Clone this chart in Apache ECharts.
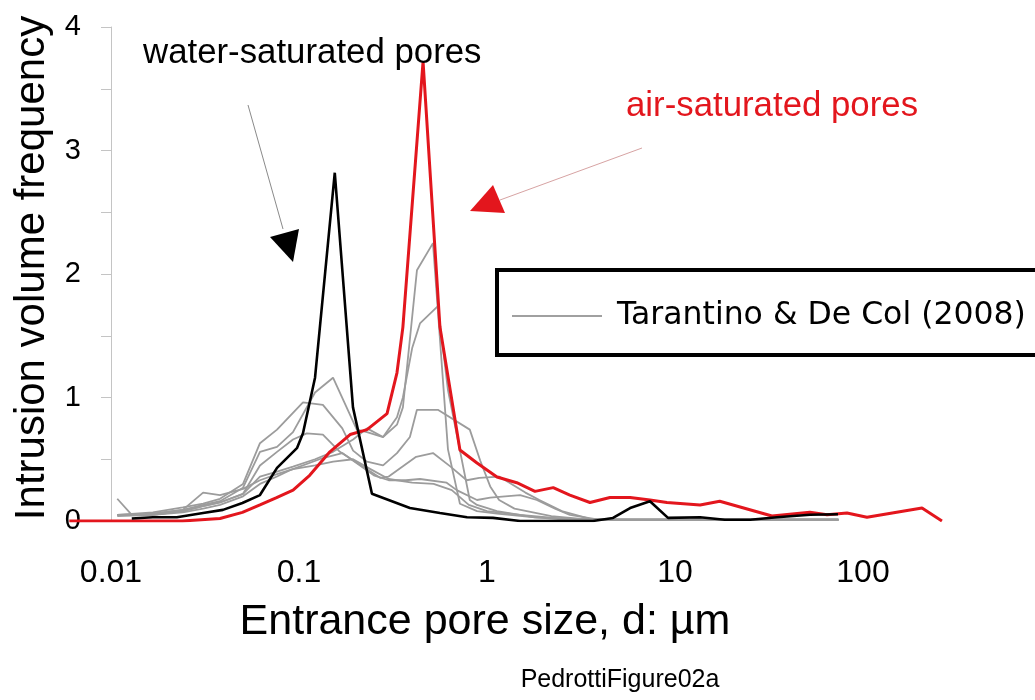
<!DOCTYPE html>
<html>
<head>
<meta charset="utf-8">
<script src="https://cdn.jsdelivr.net/npm/echarts@6/dist/echarts.min.js"></script>
<style>html,body{margin:0;padding:0;background:#fff}#c{width:1035px;height:700px}</style>
</head>
<body>
<div id="c"></div>
<script>
// ---- data ----
const xTickValues = [0.01, 0.1, 1, 10, 100];
const xTickLabels = ['0.01', '0.1', '1', '10', '100'];
const yTickLabels = ['0', '1', '2', '3', '4'];

const xTitle = 'Entrance pore size, d: \u00b5m';
const yTitle = 'Intrusion volume frequency';
const legendLabel = 'Tarantino & De Col (2008)';
const waterLabel = 'water-saturated pores';
const airLabel = 'air-saturated pores';
const footLabel = 'PedrottiFigure02a';

// air-saturated pores (red)
const redD = [0.006, 0.024, 0.038, 0.050, 0.062, 0.076, 0.093, 0.114, 0.146, 0.187, 0.230, 0.294, 0.332, 0.357, 0.457, 0.562, 0.718, 0.885, 1.13, 1.44, 1.80, 2.25, 2.76, 3.53, 4.51, 5.77, 7.36, 9.06, 13.6, 17.3, 32.8, 52.2, 64.4, 82.2, 105, 206, 263];
const redV = [0, 0, 0.02, 0.07, 0.13, 0.19, 0.25, 0.37, 0.56, 0.70, 0.74, 0.87, 1.20, 1.57, 3.72, 1.57, 0.575, 0.47, 0.356, 0.31, 0.24, 0.27, 0.21, 0.15, 0.19, 0.19, 0.17, 0.15, 0.13, 0.16, 0.04, 0.07, 0.05, 0.065, 0.03, 0.105, 0];

// water-saturated pores (black)
const blackD = [0.0129, 0.0167, 0.0224, 0.0309, 0.0394, 0.050, 0.062, 0.0764, 0.0975, 0.105, 0.1217, 0.155, 0.1937, 0.2444, 0.389, 0.562, 0.783, 1.076, 1.50, 2.67, 3.66, 4.68, 5.77, 7.36, 9.18, 13.6, 18.4, 25.1, 34.9, 52.2, 73.6];
const blackV = [0.02, 0.03, 0.03, 0.065, 0.09, 0.146, 0.21, 0.43, 0.59, 0.71, 1.16, 2.82, 0.92, 0.22, 0.105, 0.065, 0.03, 0.025, 0, 0, 0, 0.025, 0.105, 0.16, 0.025, 0.03, 0.01, 0.01, 0.03, 0.05, 0.055];

// Tarantino & De Col (2008) curves (grey)
const g1D = [0.0108, 0.0167, 0.0241, 0.0309, 0.038, 0.0504, 0.062, 0.0764, 0.0929, 0.1217, 0.1517, 0.203, 0.23, 0.28, 0.332, 0.357, 0.424, 0.516, 0.62, 0.718, 0.885, 1.13, 1.8, 2.76, 4.5, 9, 25, 74];
const g1V = [0.05, 0.06, 0.09, 0.13, 0.16, 0.27, 0.56, 0.60, 0.72, 1.04, 1.16, 0.74, 0.72, 0.68, 0.78, 0.92, 2.03, 2.25, 0.58, 0.14, 0.08, 0.06, 0.03, 0.01, 0.01, 0.01, 0.01, 0.01];
const g2D = [0.0108, 0.0167, 0.0241, 0.0309, 0.038, 0.0504, 0.062, 0.0764, 0.105, 0.134, 0.17, 0.194, 0.23, 0.28, 0.332, 0.389, 0.424, 0.548, 0.81, 0.92, 1.04, 1.16, 1.4, 2.2, 3.5, 9, 25, 74];
const g2V = [0.05, 0.07, 0.11, 0.14, 0.18, 0.30, 0.63, 0.74, 0.96, 0.94, 0.75, 0.57, 0.48, 0.45, 0.55, 0.68, 0.90, 0.90, 0.74, 0.49, 0.28, 0.17, 0.10, 0.04, 0.01, 0.01, 0.01, 0.01];
const g3D = [0.0108, 0.0167, 0.0241, 0.0309, 0.038, 0.0504, 0.062, 0.0764, 0.0929, 0.1217, 0.1517, 0.194, 0.23, 0.28, 0.332, 0.357, 0.40, 0.44, 0.548, 0.62, 0.81, 0.885, 1.13, 1.8, 2.76, 4.5, 9, 25, 74];
const g3V = [0.05, 0.05, 0.08, 0.12, 0.15, 0.22, 0.36, 0.40, 0.44, 0.50, 0.56, 0.66, 0.75, 0.68, 0.84, 1.00, 1.40, 1.60, 1.74, 1.06, 0.17, 0.13, 0.08, 0.03, 0.02, 0.01, 0.01, 0.01, 0.01];
const g4D = [0.0108, 0.0167, 0.0241, 0.0309, 0.038, 0.0504, 0.062, 0.0764, 0.0929, 0.11, 0.134, 0.165, 0.27, 0.30, 0.42, 0.516, 0.64, 0.78, 0.91, 1.16, 1.6, 1.9, 2.5, 3.5, 5, 25, 74];
const g4V = [0.04, 0.05, 0.08, 0.12, 0.15, 0.22, 0.45, 0.56, 0.66, 0.71, 0.70, 0.56, 0.35, 0.36, 0.52, 0.55, 0.44, 0.33, 0.35, 0.36, 0.23, 0.17, 0.08, 0.02, 0.01, 0.01, 0.01];
const g5D = [0.0108, 0.0167, 0.0241, 0.0309, 0.038, 0.0504, 0.062, 0.0764, 0.089, 0.134, 0.17, 0.25, 0.30, 0.37, 0.44, 0.61, 0.69, 0.885, 1.04, 1.5, 1.84, 2.3, 2.76, 4, 9, 25, 74];
const g5V = [0.05, 0.05, 0.07, 0.10, 0.13, 0.20, 0.30, 0.36, 0.41, 0.51, 0.55, 0.37, 0.33, 0.33, 0.34, 0.31, 0.25, 0.17, 0.19, 0.21, 0.17, 0.10, 0.05, 0.01, 0.01, 0.01, 0.01];
const g6D = [0.0108, 0.0129, 0.0167, 0.0241, 0.0309, 0.038, 0.0504, 0.062, 0.0764, 0.0929, 0.122, 0.152, 0.194, 0.24, 0.30, 0.40, 0.52, 0.65, 0.8, 1.0, 1.5, 2.5, 4, 9, 25, 74];
const g6V = [0.18, 0.05, 0.06, 0.09, 0.23, 0.21, 0.26, 0.33, 0.38, 0.42, 0.45, 0.48, 0.50, 0.42, 0.34, 0.31, 0.30, 0.25, 0.13, 0.08, 0.05, 0.02, 0.01, 0.01, 0.01, 0.01];

const greyD = [g1D, g2D, g3D, g4D, g5D, g6D];
const greyV = [g1V, g2V, g3V, g4V, g5V, g6V];

// ---- build ----
const zip = (d, v) => d.map((x, i) => [x, v[i]]);
const SANS = "'Liberation Sans', Arial, sans-serif";

const series = [];
greyD.forEach((d, k) => {
  series.push({
    name: legendLabel + ' ' + (k + 1), type: 'line', data: zip(d, greyV[k]),
    symbol: 'none', lineStyle: { color: '#9c9c9c', width: 1.8 }, z: 2, silent: true
  });
});
series.push({ name: airLabel, type: 'line', data: zip(redD, redV), symbol: 'none',
  lineStyle: { color: '#e3161d', width: 3 }, z: 3 });
series.push({ name: waterLabel, type: 'line', data: zip(blackD, blackV), symbol: 'none',
  lineStyle: { color: '#000', width: 2.6 }, z: 4 });

const chart = echarts.init(document.getElementById('c'), null, { renderer: 'canvas' });
chart.setOption({
  animation: false,
  backgroundColor: '#fff',
  grid: { left: 54.4, right: 40.6, top: 27, bottom: 179, containLabel: false },
  xAxis: {
    type: 'log', logBase: 10, min: 0.005, max: 500,
    axisLine: { show: false }, axisTick: { show: false }, splitLine: { show: false },
    axisLabel: {
      margin: 36, fontSize: 32, fontFamily: SANS, color: '#000',
      formatter: function (v) {
        for (let i = 0; i < xTickValues.length; i++) {
          if (Math.abs(Math.log10(v) - Math.log10(xTickValues[i])) < 1e-6) return xTickLabels[i];
        }
        return '';
      }
    }
  },
  yAxis: {
    type: 'value', min: 0, max: 4, interval: 0.5, offset: -56.6,
    axisLine: { show: true, lineStyle: { color: '#c4c4c4', width: 1 } },
    axisTick: { show: true, inside: false, length: 10, lineStyle: { color: '#c4c4c4' } },
    splitLine: { show: false },
    axisLabel: {
      margin: 30, fontSize: 29, fontFamily: SANS, color: '#000',
      formatter: function (v) { return Math.abs(v - Math.round(v)) < 1e-9 ? yTickLabels[Math.round(v)] : ''; }
    }
  },
  series: series,
  graphic: [
    { type: 'text', x: 32, y: 268, rotation: Math.PI / 2, z: 10,
      style: { text: yTitle, font: '42px ' + SANS, fill: '#000', align: 'center', verticalAlign: 'middle', textAlign: 'center', textVerticalAlign: 'middle' } },
    { type: 'text', x: 485, y: 622, z: 10,
      style: { text: xTitle, font: '43px ' + SANS, fill: '#000', align: 'center', verticalAlign: 'middle', textAlign: 'center', textVerticalAlign: 'middle' } },
    { type: 'text', x: 620, y: 680, z: 10,
      style: { text: footLabel, font: '25px ' + SANS, fill: '#000', align: 'center', verticalAlign: 'middle', textAlign: 'center', textVerticalAlign: 'middle' } },
    { type: 'text', x: 143, y: 53, z: 10,
      style: { text: waterLabel, font: '34.8px ' + SANS, fill: '#000', align: 'left', verticalAlign: 'middle', textAlign: 'left', textVerticalAlign: 'middle' } },
    { type: 'line', z: 10, shape: { x1: 248, y1: 105, x2: 283, y2: 229 }, style: { stroke: '#8a8a8a', lineWidth: 1 } },
    { type: 'polygon', z: 10, shape: { points: [[270, 237], [299, 229], [293, 262]] }, style: { fill: '#000' } },
    { type: 'text', x: 626, y: 106, z: 10,
      style: { text: airLabel, font: '34.8px ' + SANS, fill: '#e3161d', align: 'left', verticalAlign: 'middle', textAlign: 'left', textVerticalAlign: 'middle' } },
    { type: 'line', z: 10, shape: { x1: 642, y1: 148, x2: 500, y2: 200 }, style: { stroke: '#d7a3a3', lineWidth: 1 } },
    { type: 'polygon', z: 10, shape: { points: [[470, 211], [493, 185], [505, 213]] }, style: { fill: '#e3161d' } },
    { type: 'rect', z: 10, shape: { x: 497, y: 270, width: 560, height: 85 }, style: { fill: '#fff', stroke: '#000', lineWidth: 4 } },
    { type: 'line', z: 11, shape: { x1: 512, y1: 316, x2: 602, y2: 316 }, style: { stroke: '#a0a0a0', lineWidth: 2 } },
    { type: 'text', x: 617, y: 316, z: 11,
      style: { text: legendLabel, font: "31.5px 'DejaVu Sans', sans-serif", fill: '#000', align: 'left', verticalAlign: 'middle', textAlign: 'left', textVerticalAlign: 'middle' } }
  ]
});
</script>
</body>
</html>
